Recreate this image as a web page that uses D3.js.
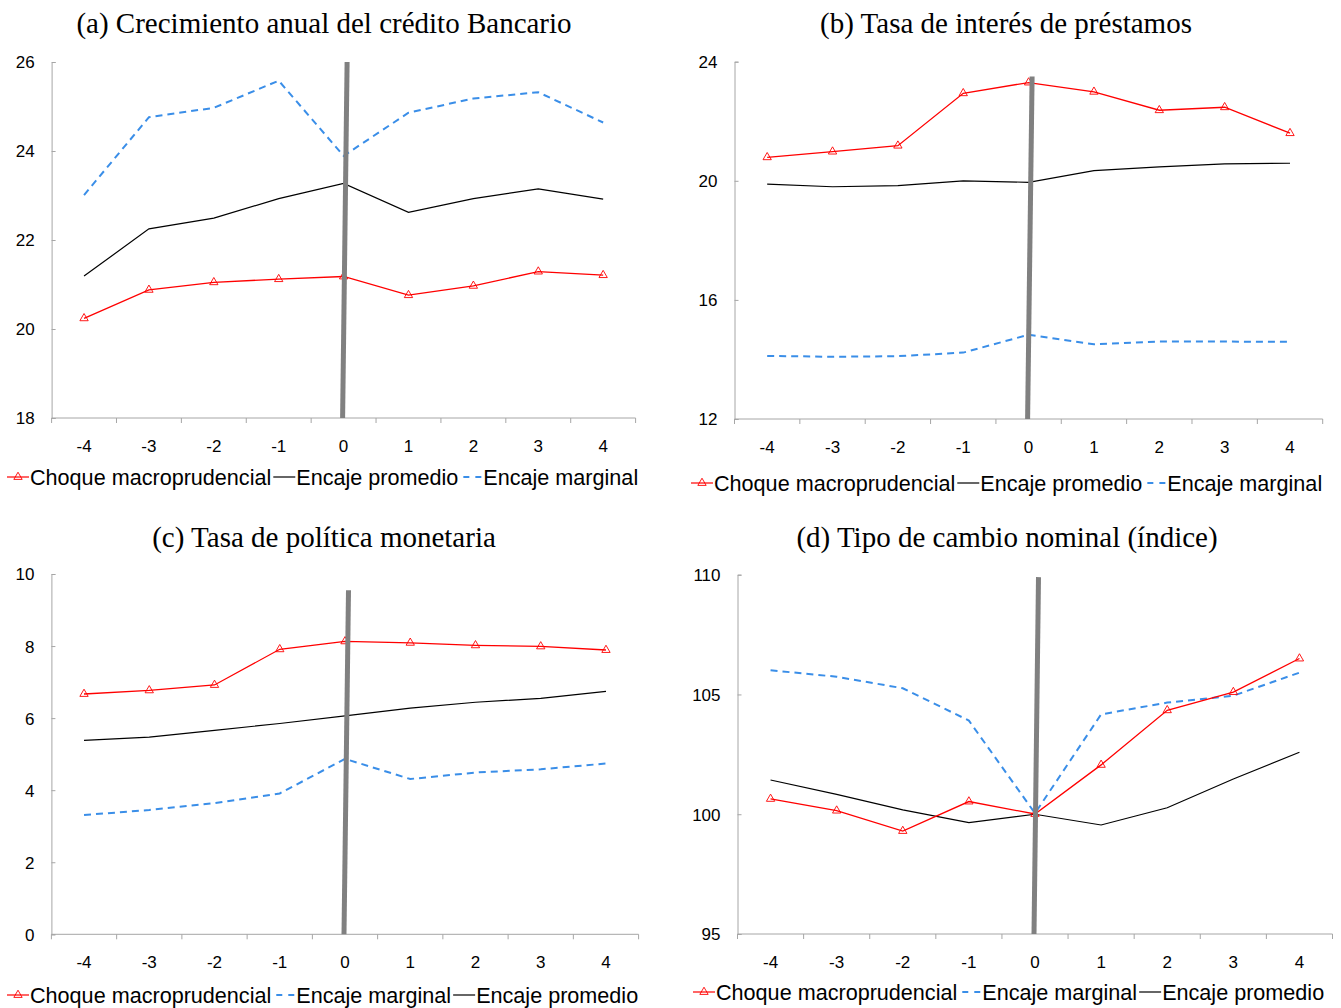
<!DOCTYPE html>
<html>
<head>
<meta charset="utf-8">
<script src="https://cdn.jsdelivr.net/npm/d3@7"></script>
<style>
  body { margin: 0; background: #fff; }
  svg text { font-family: 'Liberation Sans', Arial, sans-serif; fill: #000; }
  .title { font-family: 'Liberation Serif', 'Times New Roman', serif; font-size: 29px; }
</style>
</head>
<body>
<svg id="chart" width="1341" height="1008"></svg>
<script>
// categories (quarters around the shock)
const periods = ['-4', '-3', '-2', '-1', '0', '1', '2', '3', '4']

// (a) Crecimiento anual del crédito Bancario
const creditoChoque = [20.24, 20.88, 21.05, 21.12, 21.18, 20.76, 20.97, 21.29, 21.21]
const creditoPromedio = [21.19, 22.25, 22.49, 22.93, 23.27, 22.62, 22.93, 23.15, 22.92]
const creditoMarginal = [23.01, 24.76, 24.97, 25.58, 23.89, 24.86, 25.18, 25.32, 24.64]

// (b) Tasa de interés de préstamos
const tasaChoque = [20.79, 20.98, 21.18, 22.94, 23.3, 22.99, 22.37, 22.47, 21.6]
const tasaPromedio = [19.89, 19.8, 19.84, 20.0, 19.95, 20.34, 20.47, 20.57, 20.59]
const tasaMarginal = [14.12, 14.09, 14.11, 14.23, 14.83, 14.51, 14.6, 14.6, 14.59]

// (c) Tasa de política monetaria
const tpmChoque = [6.67, 6.77, 6.92, 7.91, 8.13, 8.09, 8.02, 7.99, 7.89]
const tpmPromedio = [5.38, 5.47, 5.66, 5.85, 6.06, 6.28, 6.44, 6.55, 6.74]
const tpmMarginal = [3.31, 3.45, 3.64, 3.91, 4.87, 4.31, 4.49, 4.58, 4.74]

// (d) Tipo de cambio nominal (índice)
const tcChoque = [100.64, 100.15, 99.3, 100.53, 100.01, 102.06, 104.34, 105.1, 106.5]
const tcPromedio = [101.43, 100.83, 100.18, 99.65, 100.0, 99.55, 100.27, 101.47, 102.59]
const tcMarginal = [106.01, 105.74, 105.26, 103.91, 100.04, 104.17, 104.66, 104.95, 105.91]

const titles = [
  '(a) Crecimiento anual del crédito Bancario',
  '(b) Tasa de interés de préstamos',
  '(c) Tasa de política monetaria',
  '(d) Tipo de cambio nominal (índice)',
]
const yDomains = [[18, 26], [12, 24], [0, 10], [95, 110]]
const yTicks = [[18, 20, 22, 24, 26], [12, 16, 20, 24], [0, 2, 4, 6, 8, 10], [95, 100, 105, 110]]
// where the grey shock line ends at the top
const shockTop = [26, 23.5, 9.55, 109.9]

const seriesNames = {
  choque: 'Choque macroprudencial',
  promedio: 'Encaje promedio',
  marginal: 'Encaje marginal',
}
const legendOrders = [
  ['choque', 'promedio', 'marginal'],
  ['choque', 'promedio', 'marginal'],
  ['choque', 'marginal', 'promedio'],
  ['choque', 'marginal', 'promedio'],
]

const panelData = [
  { choque: creditoChoque, promedio: creditoPromedio, marginal: creditoMarginal },
  { choque: tasaChoque, promedio: tasaPromedio, marginal: tasaMarginal },
  { choque: tpmChoque, promedio: tpmPromedio, marginal: tpmMarginal },
  { choque: tcChoque, promedio: tcPromedio, marginal: tcMarginal },
]

// layout of each panel (plot box, title and legend anchors)
const boxes = [
  { left: 51.6, right: 635.6, top: 62, bottom: 418, titleX: 324, titleY: 33, legX: 7, legY: 477 },
  { left: 734.5, right: 1322.7, top: 61.7, bottom: 419, titleX: 1006, titleY: 33, legX: 691, legY: 483 },
  { left: 51.4, right: 638.6, top: 574, bottom: 934.3, titleX: 324, titleY: 547, legX: 7, legY: 995 },
  { left: 737.5, right: 1332.5, top: 574.7, bottom: 934, titleX: 1007, titleY: 547, legX: 693, legY: 992 },
]

const styles = {
  choque: { color: '#ff0000', width: 1.3, dash: null, marker: true },
  promedio: { color: '#000000', width: 1.2, dash: null, marker: false },
  marginal: { color: '#3a8ee8', width: 2, dash: '7,5', marker: false },
}

const svg = d3.select('#chart')
const triangle = d3.symbol().type(d3.symbolTriangle).size(30)

panelData.forEach((data, i) => {
  const b = boxes[i]
  const g = svg.append('g')

  const x = d3.scaleBand().domain(periods).range([b.left, b.right]).padding(0)
  const y = d3.scaleLinear().domain(yDomains[i]).range([b.bottom, b.top])
  const cx = d => x(d) + x.bandwidth() / 2

  g.append('text')
    .attr('class', 'title')
    .attr('x', b.titleX)
    .attr('y', b.titleY)
    .attr('text-anchor', 'middle')
    .text(titles[i])

  // y axis
  const yAxis = g.append('g')
    .attr('transform', `translate(${b.left},0)`)
    .call(d3.axisLeft(y).tickValues(yTicks[i]).tickSize(-4).tickPadding(17))
  yAxis.select('.domain').attr('stroke', '#a6a6a6')
  yAxis.selectAll('.tick line').attr('stroke', '#a6a6a6')
  yAxis.selectAll('.tick text').style('font-size', '17px').attr('dy', '0.35em')

  // x axis: ticks between categories
  const xAxis = g.append('g').attr('transform', `translate(0,${b.bottom})`)
  xAxis.append('line')
    .attr('x1', b.left).attr('x2', b.right)
    .attr('stroke', '#a6a6a6')
  const bounds = periods.map(p => x(p)).concat([b.right])
  xAxis.selectAll('line.tk').data(bounds).enter().append('line')
    .attr('class', 'tk')
    .attr('x1', d => d).attr('x2', d => d)
    .attr('y1', 0).attr('y2', 5)
    .attr('stroke', '#a6a6a6')
  xAxis.selectAll('text').data(periods).enter().append('text')
    .attr('x', cx)
    .attr('y', 34)
    .attr('text-anchor', 'middle')
    .style('font-size', '17px')
    .text(d => d)

  // series
  const order = ['marginal', 'promedio', 'choque']
  order.forEach(key => {
    const st = styles[key]
    const line = d3.line().x((d, j) => cx(periods[j])).y(d => y(d))
    g.append('path')
      .datum(data[key])
      .attr('d', line)
      .attr('fill', 'none')
      .attr('stroke', st.color)
      .attr('stroke-width', st.width)
      .attr('stroke-dasharray', st.dash)
    if (st.marker) {
      g.selectAll(null).data(data[key]).enter().append('path')
        .attr('d', triangle)
        .attr('transform', (d, j) => `translate(${cx(periods[j])},${y(d)})`)
        .attr('fill', 'none')
        .attr('stroke', st.color)
        .attr('stroke-width', 0.9)
    }
  })

  // grey shock line at period 0 (slightly slanted, as in the original)
  g.append('line')
    .attr('x1', cx('0') + 3.5).attr('y1', y(shockTop[i]))
    .attr('x2', cx('0') - 1).attr('y2', b.bottom)
    .attr('stroke', '#808080')
    .attr('stroke-width', 5)

  // legend
  const leg = g.append('g').attr('transform', `translate(${b.legX},${b.legY})`)
  let lx = 0
  legendOrders[i].forEach(key => {
    const st = styles[key]
    leg.append('line')
      .attr('x1', lx).attr('x2', lx + 22)
      .attr('stroke', st.color)
      .attr('stroke-width', key === 'marginal' ? 1.8 : 1.2)
      .attr('stroke-dasharray', key === 'marginal' ? '6,6' : null)
      .attr('stroke-dashoffset', key === 'marginal' ? -3 : null)
    if (st.marker) {
      leg.append('path')
        .attr('d', triangle)
        .attr('transform', `translate(${lx + 11},0)`)
        .attr('fill', 'none')
        .attr('stroke', st.color)
        .attr('stroke-width', 0.9)
    }
    const t = leg.append('text')
      .attr('x', lx + 23)
      .attr('y', 0)
      .attr('dy', '0.35em')
      .style('font-size', '21.6px')
      .text(seriesNames[key])
    lx += 23 + t.node().getComputedTextLength() + 2
  })
})
</script>
</body>
</html>
